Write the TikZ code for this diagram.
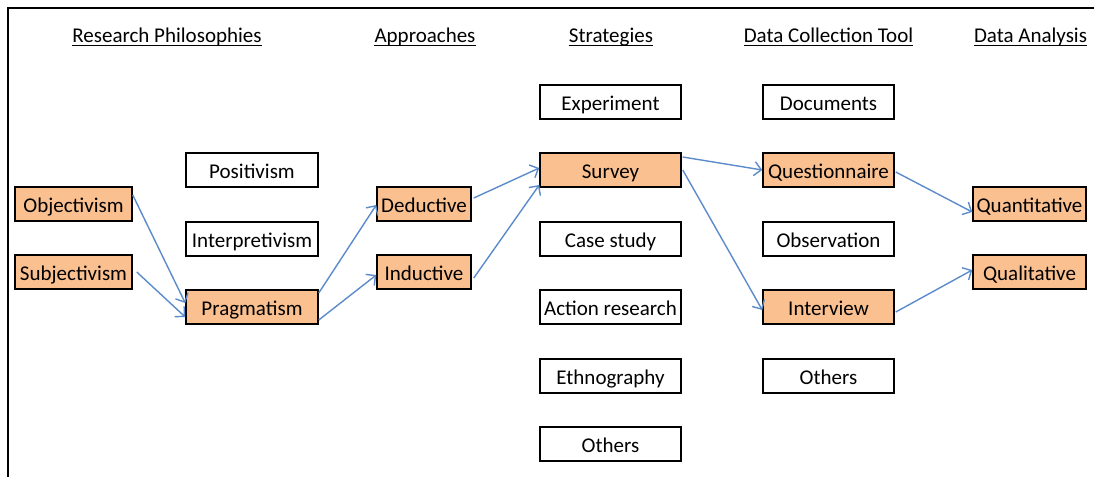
\documentclass[tikz,border=0pt]{standalone}
\usepackage{fontspec}
\setmainfont{Carlito}
\usetikzlibrary{arrows.meta}
\definecolor{peach}{HTML}{FAC090}
\definecolor{arrowblue}{HTML}{5B8BCB}
\begin{document}
\begin{tikzpicture}[x=1pt,y=-1pt,
  font=\fontsize{21}{25}\selectfont,
  box/.style={draw=black, line width=1.5pt, minimum height=34pt, inner sep=0pt, text height=18pt, text depth=2pt, anchor=center, fill=white},
  hi/.style={box, fill=peach},
  hdr/.style={inner sep=0pt, anchor=base},
  uline/.style={line width=1.3pt},
  link/.style={draw=arrowblue, line width=1.4pt, -{Straight Barb[length=7pt,width=14pt,line width=1.4pt]}}]
\useasboundingbox (0,0) rectangle (1094,477);
\draw[line width=2.5pt] (1094,8) -- (8,8) -- (8,477);

% headers
\node[hdr] (h1) at (167,42) {Research Philosophies};
\node[hdr] (h2) at (425,42) {Approaches};
\node[hdr] (h3) at (611,42) {Strategies};
\node[hdr] (h4) at (828.5,42) {Data Collection Tool};
\node[hdr] (h5) at (1030.5,42) {Data Analysis};
\foreach \h in {h1,h2,h3,h4,h5}
  \draw[uline] ([yshift=-3.5pt]\h.base west) -- ([yshift=-3.5pt]\h.base east);

% philosophies
\node[hi, minimum width=117pt] (obj) at (73.5,204) {Objectivism};
\node[hi, minimum width=117pt] (subj) at (73.5,272) {Subjectivism};
\node[box, minimum width=132pt] (pos) at (252,170) {Positivism};
\node[box, minimum width=132pt] (interp) at (252,239) {Interpretivism};
\node[hi, minimum width=132pt] (prag) at (252,307) {Pragmatism};

% approaches
\node[hi, minimum width=94pt] (ded) at (424,204) {Deductive};
\node[hi, minimum width=94pt] (ind) at (424,272) {Inductive};

% strategies
\node[box, minimum width=141pt] (exp) at (610.5,102) {Experiment};
\node[hi, minimum width=141pt] (surv) at (610.5,170) {Survey};
\node[box, minimum width=141pt] (case) at (610.5,239) {Case study};
\node[box, minimum width=141pt] (act) at (610.5,307) {Action research};
\node[box, minimum width=141pt] (eth) at (610.5,376) {Ethnography};
\node[box, minimum width=141pt] (oth1) at (610.5,444) {Others};

% data collection
\node[box, minimum width=131pt] (doc) at (828.5,102) {Documents};
\node[hi, minimum width=131pt] (quest) at (828.5,170) {Questionnaire};
\node[box, minimum width=131pt] (obs) at (828.5,239) {Observation};
\node[hi, minimum width=131pt] (inter) at (828.5,307) {Interview};
\node[box, minimum width=131pt] (oth2) at (828.5,376) {Others};

% analysis
\node[hi, minimum width=113pt] (quant) at (1029.5,204) {Quantitative};
\node[hi, minimum width=113pt] (qual) at (1029.5,272) {Qualitative};

% connectors
\draw[link] ([yshift=9pt]obj.east) -- ([yshift=4pt]prag.west);
\draw[link] ([xshift=4pt]subj.east) -- ([yshift=-10pt]prag.west);
\draw[link] ([yshift=14pt]prag.east) -- ([yshift=-1pt]ded.west);
\draw[link] ([yshift=-13pt]prag.east) -- ([yshift=-3pt]ind.west);
\draw[link] ([xshift=2pt,yshift=6pt]ded.east) -- ([yshift=2pt]surv.west);
\draw[link] ([xshift=2pt,yshift=-6pt]ind.east) -- ([yshift=-15pt]surv.west);
\draw[link] ([xshift=1pt,yshift=13pt]surv.east) -- (quest.west);
\draw[link] ([xshift=1pt]surv.east) -- ([yshift=-3pt]inter.west);
\draw[link] ([xshift=1pt,yshift=-2pt]quest.east) -- ([yshift=-8pt]quant.west);
\draw[link] ([xshift=1pt,yshift=-5pt]inter.east) -- ([yshift=2pt]qual.west);
\end{tikzpicture}
\end{document}
